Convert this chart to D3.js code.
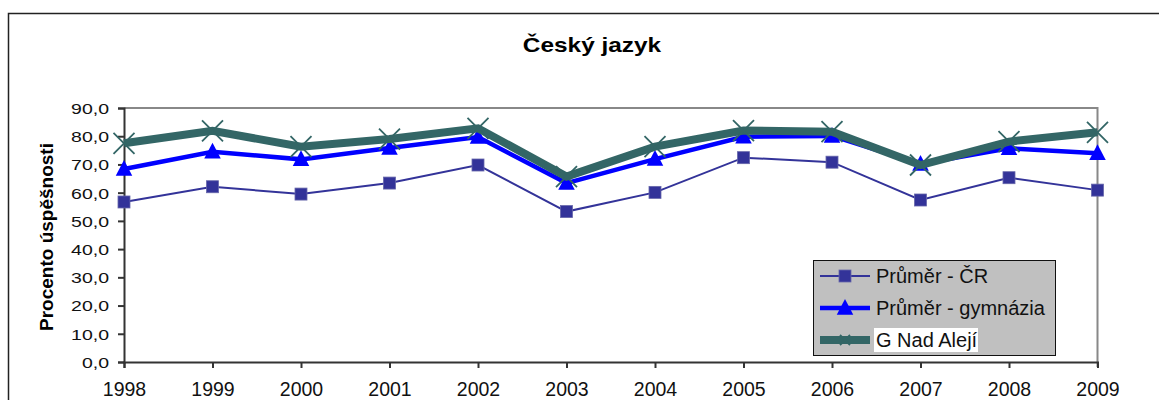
<!DOCTYPE html>
<meta charset="utf-8">
<body style="margin:0;background:#fff">
<script src="https://d3js.org/d3.v7.min.js"></script>
<script>
var years = [1998, 1999, 2000, 2001, 2002, 2003, 2004, 2005, 2006, 2007, 2008, 2009];
var prumerCR = [56.7, 62.1, 59.5, 63.4, 69.8, 53.3, 60.1, 72.4, 70.8, 57.4, 65.3, 60.9];
var prumerGym = [68.4, 74.5, 71.8, 75.8, 79.7, 63.4, 71.9, 79.8, 80.1, 70.2, 75.7, 74.0];
var nadAleji = [77.5, 81.9, 76.3, 79.0, 82.8, 65.7, 76.3, 82.0, 81.6, 69.8, 78.1, 81.4];
var yTicks = [0, 10, 20, 30, 40, 50, 60, 70, 80, 90];

var width = 1159,
    height = 400;
var font = "'Liberation Sans', Arial, sans-serif";

var svg = d3.select("body").append("svg")
    .attr("width", width)
    .attr("height", height)
    .attr("font-family", font)
    .style("display", "block");

// outer frame (cut off on right/bottom)
svg.append("rect")
    .attr("x", 8.5).attr("y", 13.5)
    .attr("width", 1300).attr("height", 500)
    .attr("fill", "none").attr("stroke", "#222").attr("stroke-width", 1.5);

svg.append("text")
    .attr("x", 592).attr("y", 52)
    .attr("text-anchor", "middle")
    .attr("font-size", 20).attr("font-weight", "bold")
    .attr("transform", "translate(592,0) scale(1.22,1) translate(-592,0)")
    .text("Český jazyk");

var x = d3.scalePoint().domain(years).range([124, 1097.5]);
var y = d3.scaleLinear().domain([0, 90]).range([362, 108]);

// plot area top/right border
svg.append("path")
    .attr("d", "M124," + y(90) + "H" + x(2009) + "V" + (y(0) + 5))
    .attr("fill", "none").attr("stroke", "#888").attr("stroke-width", 2);

var yAxis = svg.append("g")
    .attr("transform", "translate(124,0)")
    .call(d3.axisLeft(y).tickValues(yTicks).tickSize(6).tickPadding(8)
        .tickFormat(function(d) { return d3.format(".1f")(d).replace(".", ","); }))
    .attr("font-family", font).attr("font-size", 15);
yAxis.selectAll("text")
    .attr("fill", "#111")
    .attr("transform", "scale(1.3,1)")
    .attr("x", -15 / 1.3).attr("dy", "0.36em");

var xAxis = svg.append("g")
    .attr("transform", "translate(0,362)")
    .call(d3.axisBottom(x).tickSize(6).tickPadding(14))
    .attr("font-family", font).attr("font-size", 19.5);
xAxis.selectAll("text")
    .attr("fill", "#111");

svg.selectAll(".domain, .tick line")
    .attr("stroke", "#333").attr("stroke-width", 2);

svg.append("text")
    .attr("transform", "translate(53,237) rotate(-90)")
    .attr("text-anchor", "middle")
    .attr("font-size", 19).attr("font-weight", "bold")
    .text("Procento úspěšnosti");

var series = [
    { name: "Průměr - ČR", values: prumerCR, color: "#333399", lw: 2, marker: "square" },
    { name: "Průměr - gymnázia", values: prumerGym, color: "#0000ff", lw: 4.5, marker: "triangle" },
    { name: "G Nad Alejí", values: nadAleji, color: "#336666", lw: 8, marker: "cross" }
];

var line = d3.line()
    .x(function(d, i) { return x(years[i]); })
    .y(function(d) { return y(d); });

function drawMarker(g, type, color, size) {
    if (type === "square") {
        g.append("rect")
            .attr("x", -size / 2).attr("y", -size / 2)
            .attr("width", size).attr("height", size)
            .attr("fill", color).attr("stroke", "#6666aa").attr("stroke-width", 0.8);
    } else if (type === "triangle") {
        var h = size;
        g.append("path")
            .attr("d", "M0," + (-h * 0.6) + "L" + (h * 0.55) + "," + (h * 0.45) + "L" + (-h * 0.55) + "," + (h * 0.45) + "Z")
            .attr("fill", color);
    } else {
        var s = size / 2;
        g.append("path")
            .attr("d", "M" + -s + "," + -s + "L" + s + "," + s + "M" + -s + "," + s + "L" + s + "," + -s)
            .attr("stroke", color).attr("stroke-width", 1.8).attr("fill", "none");
    }
}

var markerSize = { square: 12, triangle: 15, cross: 21 };

series.forEach(function(s) {
    svg.append("path")
        .datum(s.values)
        .attr("d", line)
        .attr("fill", "none")
        .attr("stroke", s.color)
        .attr("stroke-width", s.lw)
        .attr("stroke-linejoin", "miter");
    svg.selectAll(null)
        .data(s.values)
        .enter().append("g")
        .attr("transform", function(d, i) { return "translate(" + x(years[i]) + "," + y(d) + ")"; })
        .each(function() { drawMarker(d3.select(this), s.marker, s.color, markerSize[s.marker]); });
});

// legend
var legend = svg.append("g").attr("transform", "translate(813,260)");
legend.append("rect")
    .attr("x", 0.5).attr("y", 0.5).attr("width", 242).attr("height", 95)
    .attr("fill", "#c0c0c0").attr("stroke", "#111").attr("stroke-width", 1);

series.forEach(function(s, i) {
    var cy = 16 + i * 32;
    var row = legend.append("g").attr("transform", "translate(0," + cy + ")");
    row.append("line")
        .attr("x1", 7).attr("x2", 57)
        .attr("stroke", s.color).attr("stroke-width", s.lw);
    var m = row.append("g").attr("transform", "translate(32,0)");
    drawMarker(m, s.marker, s.color, s.marker === "cross" ? 10 : markerSize[s.marker]);
    if (i === 2) {
        row.append("rect")
            .attr("x", 61).attr("y", -12).attr("width", 104).attr("height", 24)
            .attr("fill", "#fff");
    }
    row.append("text")
        .attr("x", 63).attr("y", 7)
        .attr("font-size", 20).attr("fill", "#111")
        .text(s.name);
});
</script>
